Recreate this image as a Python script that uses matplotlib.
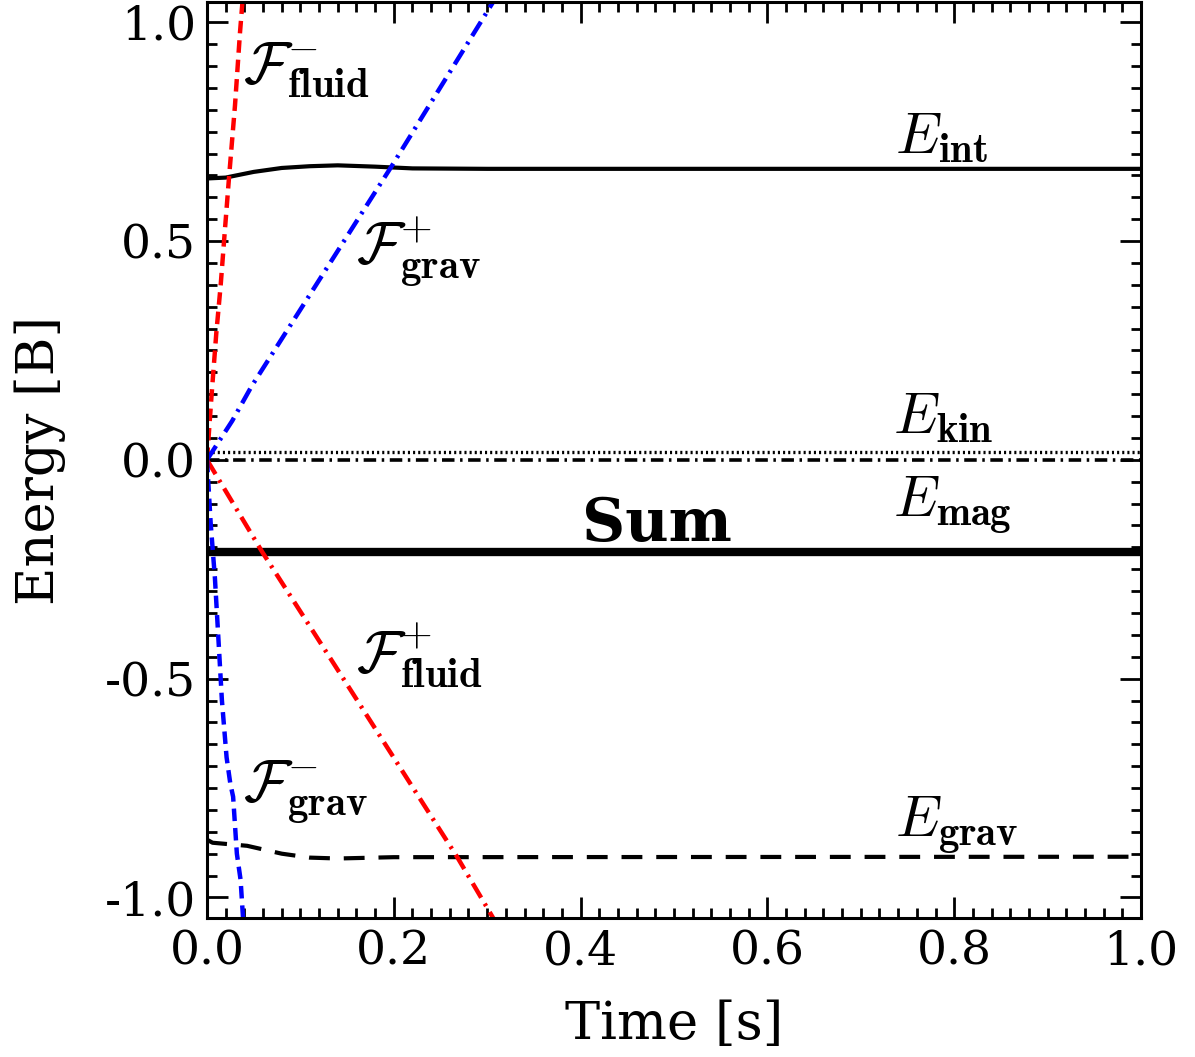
import matplotlib
matplotlib.use('Agg')
import matplotlib.pyplot as plt
from matplotlib.ticker import MultipleLocator, FormatStrFormatter

plt.rcParams['font.family'] = 'DejaVu Serif'
plt.rcParams['mathtext.fontset'] = 'cm'
plt.rcParams['lines.scale_dashes'] = False

# energies (time in s, energy in B)
t_int = [0.0, 0.02, 0.05, 0.08, 0.11, 0.14, 0.18, 0.22, 0.3, 1.0]
e_int = [0.643, 0.645, 0.658, 0.667, 0.671, 0.673, 0.670, 0.666, 0.665, 0.665]

t_kin = [0.0, 1.0]
e_kin = [0.018, 0.018]

t_mag = [0.0, 1.0]
e_mag = [0.0, 0.0]

t_sum = [0.0, 1.0]
e_sum = [-0.211, -0.211]

t_grav = [0.0, 0.006, 0.043, 0.08, 0.11, 0.14, 0.2, 1.0]
e_grav = [-0.868, -0.875, -0.882, -0.900, -0.909, -0.911, -0.908, -0.907]

t_ffm = [0.0, 0.002, 0.005, 0.01, 0.0147, 0.019, 0.0236, 0.03, 0.0353, 0.04]
f_fluid_minus = [0.0, 0.06, 0.15, 0.29, 0.40, 0.52, 0.645, 0.81, 0.975, 1.1]

t_ffp = [0.0, 0.059, 0.146, 0.268, 0.31]
f_fluid_plus = [0.0, -0.21, -0.50, -0.908, -1.06]

t_fgp = [0.0, 0.027, 0.048, 0.198, 0.306, 0.31]
f_grav_plus = [0.0, 0.089, 0.169, 0.672, 1.045, 1.06]

t_fgm = [0.0, 0.004, 0.0085, 0.012, 0.016, 0.021, 0.025, 0.028, 0.032, 0.036, 0.039]
f_grav_minus = [0.0, -0.146, -0.27, -0.40, -0.55, -0.68, -0.74, -0.77, -0.90, -0.96, -1.06]

fig = plt.figure(figsize=(11.95, 10.57), dpi=100)
ax = fig.add_axes([0.1732, 0.1315, 0.7816, 0.8665])

lw = 3.0
ax.plot(t_int, e_int, color='black', lw=lw, solid_capstyle='butt')
ax.plot(t_kin, e_kin, color='black', lw=2.4, dashes=(1.5, 2.2))
ax.plot(t_mag, e_mag, color='black', lw=2.6, dashes=(9, 4, 1.8, 4))
ax.plot(t_sum, e_sum, color='black', lw=6)
ax.plot(t_grav, e_grav, color='black', lw=lw, dashes=(15, 10))

ax.plot(t_ffm, f_fluid_minus, color='red', lw=3.2, dashes=(9, 5))
ax.plot(t_ffp, f_fluid_plus, color='red', lw=3.2, dashes=(12, 5, 2, 5))
ax.plot(t_fgp, f_grav_plus, color='blue', lw=3.2, dashes=(12, 5, 2, 5))
ax.plot(t_fgm, f_grav_minus, color='blue', lw=3.2, dashes=(9, 5))

lab = 42
ax.text(0.0385, 0.862, r'$\mathcal{F}^{-}_{\mathbf{fluid}}$', fontsize=lab, va='baseline')
ax.text(0.160, 0.450, r'$\mathcal{F}^{+}_{\mathbf{grav}}$', fontsize=lab, va='baseline')
ax.text(0.160, -0.487, r'$\mathcal{F}^{+}_{\mathbf{fluid}}$', fontsize=lab, va='baseline')
ax.text(0.0385, -0.780, r'$\mathcal{F}^{-}_{\mathbf{grav}}$', fontsize=lab, va='baseline')
ax.text(0.737, 0.702, r'$E_{\mathbf{int}}$', fontsize=lab, va='baseline')
ax.text(0.735, 0.062, r'$E_{\mathbf{kin}}$', fontsize=lab, va='baseline')
ax.text(0.735, -0.128, r'$E_{\mathbf{mag}}$', fontsize=lab, va='baseline')
ax.text(0.737, -0.860, r'$E_{\mathbf{grav}}$', fontsize=lab, va='baseline')
ax.text(0.402, -0.185, 'Sum', fontsize=43, fontweight='bold', va='baseline')

ax.set_xlim(0.0, 1.0)
ax.set_ylim(-1.047, 1.046)
ax.xaxis.set_major_locator(MultipleLocator(0.2))
ax.xaxis.set_minor_locator(MultipleLocator(0.02))
ax.yaxis.set_major_locator(MultipleLocator(0.5))
ax.yaxis.set_minor_locator(MultipleLocator(0.05))
ax.xaxis.set_major_formatter(FormatStrFormatter('%.1f'))
ax.yaxis.set_major_formatter(FormatStrFormatter('%.1f'))
ax.tick_params(which='both', direction='in', top=True, right=True, width=2, labelsize=34)
ax.tick_params(which='major', length=15, pad=8)
ax.tick_params(which='minor', length=7)
for s in ax.spines.values():
    s.set_linewidth(2.2)

ax.set_xlabel('Time [s]', fontsize=38, labelpad=18)
ax.set_ylabel('Energy [B]', fontsize=38, labelpad=28)

fig.savefig('out.png', dpi=100)
